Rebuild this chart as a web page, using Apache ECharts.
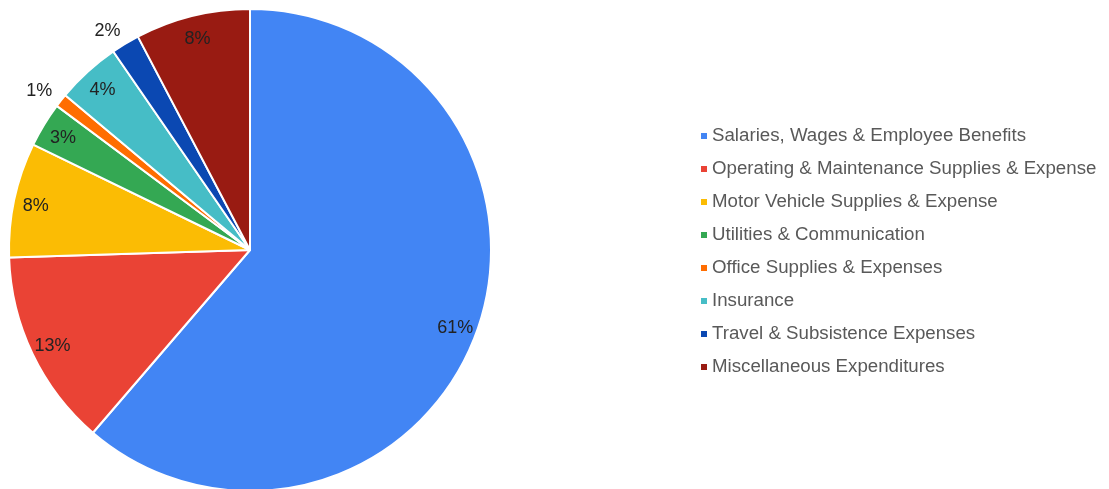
<!DOCTYPE html>
<html>
<head>
<meta charset="utf-8">
<script src="https://cdn.jsdelivr.net/npm/echarts@6/dist/echarts.min.js"></script>
<style>
  html, body { margin: 0; padding: 0; background: #ffffff; }
  #chart { width: 1109px; height: 489px; }
</style>
</head>
<body>
<div id="chart"></div>
<script>
// Expense categories and their share of total spending (percent)
const categories = [
  'Salaries, Wages & Employee Benefits',
  'Operating & Maintenance Supplies & Expense',
  'Motor Vehicle Supplies & Expense',
  'Utilities & Communication',
  'Office Supplies & Expenses',
  'Insurance',
  'Travel & Subsistence Expenses',
  'Miscellaneous Expenditures'
];
const shares = [61.3, 13.2, 7.7, 3.0, 0.9, 4.3, 1.9, 7.7];
const colors = ['#4285F4', '#EA4335', '#FBBC04', '#34A853', '#FF6D01', '#46BDC6', '#0B48B2', '#991B12'];
// Slices too thin to hold their label get it just outside the rim
const outsideLabel = [false, false, false, false, true, false, true, false];

const FONT = '"Liberation Sans", Arial, sans-serif';
const data = categories.map((name, i) => ({ name, value: shares[i], itemStyle: { color: colors[i] } }));
const pctText = p => Math.round(p.percent) + '%';

const chart = echarts.init(document.getElementById('chart'), null, { renderer: 'canvas' });
chart.setOption({
  animation: false,
  legend: {
    orient: 'vertical',
    left: 701,
    top: 126,
    padding: 0,
    icon: 'rect',
    itemWidth: 6,
    itemHeight: 6,
    itemGap: 13,
    data: categories,
    itemStyle: { borderWidth: 0 },
    textStyle: { fontFamily: FONT, fontSize: 18.7, lineHeight: 20, color: '#595959' }
  },
  series: [
    {
      // Main pie; outside labels only for the narrow slices
      type: 'pie',
      center: [250, 250],
      radius: [0, 241],
      startAngle: 90,
      clockwise: true,
      itemStyle: { borderColor: '#ffffff', borderWidth: 2 },
      emphasis: { disabled: true },
      labelLine: { show: false, length: 15, length2: 0 },
      label: { show: false },
      data: data.map((d, i) => ({
        ...d,
        label: outsideLabel[i]
          ? { show: true, position: 'outside', distanceToLabelLine: -3, formatter: pctText, fontFamily: FONT, fontSize: 18, color: '#222222' }
          : { show: false }
      }))
    },
    {
      // Transparent ring whose midline carries the in-slice labels near the rim
      type: 'pie',
      center: [250, 250],
      radius: [191, 241],
      startAngle: 90,
      clockwise: true,
      silent: true,
      legendHoverLink: false,
      itemStyle: { color: 'rgba(0,0,0,0)', borderWidth: 0 },
      emphasis: { disabled: true },
      labelLine: { show: false },
      data: data.map((d, i) => ({
        name: d.name,
        value: d.value,
        itemStyle: { color: 'rgba(0,0,0,0)' },
        label: outsideLabel[i]
          ? { show: false }
          : { show: true, position: 'inside', offset: [0, 2], formatter: pctText, fontFamily: FONT, fontSize: 18, color: '#222222' }
      }))
    }
  ]
});
</script>
</body>
</html>
